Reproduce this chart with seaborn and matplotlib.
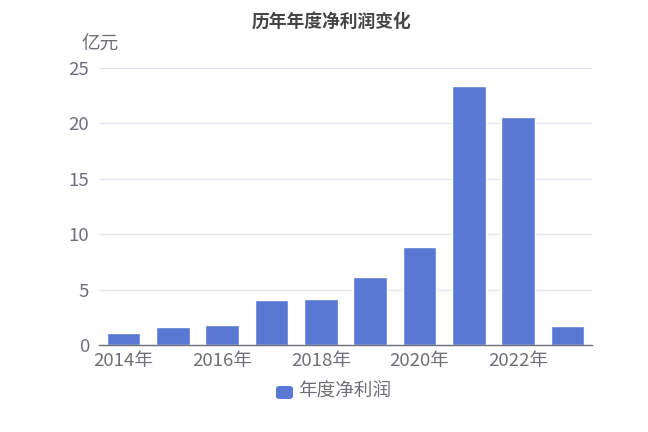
import pandas as pd
import seaborn as sns
import matplotlib.pyplot as plt
from matplotlib.patches import FancyBboxPatch

# === data ===
years = ["2014年", "2015年", "2016年", "2017年", "2018年",
         "2019年", "2020年", "2021年", "2022年", "2023年"]
profit = [1.08, 1.62, 1.8, 4.06, 4.12, 6.12, 8.84, 23.4, 20.58, 1.7]
series_name = "年度净利润"
title = "历年年度净利润变化"
unit = "亿元"

df = pd.DataFrame({"year": years, "profit": profit})

sns.set_style("white")
plt.rcParams["font.family"] = ["Noto Sans CJK SC", "DejaVu Sans"]

bar_color = "#5878d4"
text_color = "#6e7079"
fs = 13.4

fig = plt.figure(figsize=(6.48, 4.32), dpi=100)
ax = fig.add_axes([99 / 648, 1 - 345 / 432, (592 - 99) / 648, (345 - 68) / 432])

sns.barplot(data=df, x="year", y="profit", color=bar_color, width=0.68,
            saturation=1, ax=ax, label=series_name, legend=False)

ax.set_xlim(-0.5, len(years) - 0.5)
ax.set_ylim(0, 25)
ax.set_yticks([0, 5, 10, 15, 20, 25])
ax.yaxis.grid(True, color="#e0e6f1", linewidth=0.9)
ax.set_axisbelow(True)
for s in ["top", "right", "left"]:
    ax.spines[s].set_visible(False)
ax.spines["bottom"].set_color(text_color)
ax.spines["bottom"].set_linewidth(1)

# labels every other year, ticks on category boundaries
ax.set_xticks(range(0, len(years), 2))
ax.set_xticklabels(years[::2])
ax.set_xticks([i - 0.5 for i in range(0, len(years) + 1, 2)], minor=True)
ax.tick_params(axis="x", which="major", length=0, pad=5, labelsize=fs, labelcolor=text_color)
ax.tick_params(axis="x", which="minor", length=5, width=1, color=text_color, direction="out")
ax.tick_params(axis="y", length=0, pad=7, labelsize=fs, labelcolor=text_color)
ax.set_xlabel("")
ax.set_ylabel("")

fig.text(332 / 648, 1 - 22 / 432, title, ha="center", va="center",
         fontsize=12.8, fontweight="bold", color="#464646")
fig.text(100 / 648, 1 - 45 / 432, unit, ha="center", va="center",
         fontsize=fs, color=text_color)

# legend
fig.patches.append(FancyBboxPatch((276 / 648, 1 - 399 / 432), 17 / 648, 13 / 432,
                                  boxstyle="round,pad=0,rounding_size=0.006",
                                  transform=fig.transFigure, facecolor=bar_color,
                                  edgecolor="none"))
fig.text(298 / 648, 1 - 392 / 432, series_name, ha="left", va="center",
         fontsize=fs, color=text_color)

plt.savefig("out.png", dpi=100)
